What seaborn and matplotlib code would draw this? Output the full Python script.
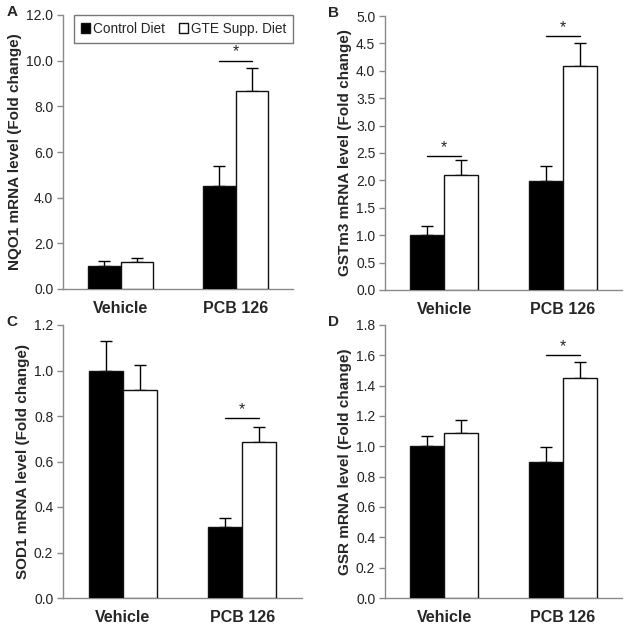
import matplotlib
matplotlib.use('Agg')
import matplotlib.pyplot as plt
import seaborn as sns
import numpy as np
import pandas as pd

# Groups and diets
groups = ['Vehicle', 'PCB 126']
diets = ['Control Diet', 'GTE Supp. Diet']

# Panel A - NQO1
nqo1_ctrl = [1.0, 4.53]
nqo1_ctrl_err = [0.21, 0.86]
nqo1_gte = [1.2, 8.65]
nqo1_gte_err = [0.17, 1.01]

# Panel B - GSTm3
gstm3_ctrl = [1.01, 1.98]
gstm3_ctrl_err = [0.16, 0.29]
gstm3_gte = [2.10, 4.08]
gstm3_gte_err = [0.27, 0.43]

# Panel C - SOD1
sod1_ctrl = [1.0, 0.31]
sod1_ctrl_err = [0.13, 0.04]
sod1_gte = [0.915, 0.686]
sod1_gte_err = [0.11, 0.064]

# Panel D - GSR
gsr_ctrl = [1.0, 0.90]
gsr_ctrl_err = [0.07, 0.095]
gsr_gte = [1.09, 1.45]
gsr_gte_err = [0.085, 0.105]

# significance bars: (group index, height)
nqo1_sig = [(1, 10.0)]
gstm3_sig = [(0, 2.45), (1, 4.63)]
sod1_sig = [(1, 0.79)]
gsr_sig = [(1, 1.6)]

W, H = 629, 630
sns.set_style('white')
plt.rcParams['font.family'] = ['Liberation Sans', 'DejaVu Sans']

fig = plt.figure(figsize=(W / 100, H / 100), dpi=100)
fig.patch.set_facecolor('white')

SPINE = '#8a8a8a'


def make_panel(rect, letter, ylabel, ctrl, ctrl_err, gte, gte_err, ymax, step, sig):
    left, top, right, bottom = rect
    ax = fig.add_axes([left / W, 1 - bottom / H, (right - left) / W, (bottom - top) / H])
    df = pd.DataFrame({
        'group': groups * 2,
        'diet': [diets[0]] * 2 + [diets[1]] * 2,
        'value': ctrl + gte,
    })
    sns.barplot(data=df, x='group', y='value', hue='diet', order=groups,
                hue_order=diets, palette=['black', 'white'], edgecolor='#111111',
                linewidth=1.0, width=0.57, errorbar=None, legend=False, ax=ax,
                zorder=3)
    centers = []
    for cont, err in zip(ax.containers, [ctrl_err, gte_err]):
        xs = [b.get_x() + b.get_width() / 2 for b in cont]
        ys = [b.get_height() for b in cont]
        centers.append(xs)
        ax.errorbar(xs, ys, yerr=[np.zeros(len(err)), err], fmt='none',
                    ecolor='black', elinewidth=1.0, capsize=4, capthick=1.0,
                    zorder=2)
    for gi, h in sig:
        x0, x1 = centers[0][gi], centers[1][gi]
        ax.plot([x0, x1], [h, h], color='black', lw=1.0, zorder=4)
        ax.text((x0 + x1) / 2, h + ymax * 0.004, '*', ha='center', va='bottom',
                fontsize=11.5)
    ax.set_xlim(-0.5, 1.5)
    ax.set_ylim(0, ymax)
    ax.set_yticks(np.arange(0, ymax + step / 2, step))
    ax.set_yticklabels([f'{v:.1f}' for v in np.arange(0, ymax + step / 2, step)],
                       fontsize=10, color='#222222')
    ax.set_xticks([0, 1])
    ax.set_xticklabels(groups, fontsize=11.5, fontweight='bold')
    ax.set_xticks([-0.5, 0.5, 1.5], minor=True)
    ax.tick_params(axis='x', which='major', length=0, pad=9)
    ax.tick_params(axis='x', which='minor', length=4, direction='out', color=SPINE, width=1)
    ax.tick_params(axis='y', length=4, direction='out', color=SPINE, width=1, pad=3, left=True)
    ax.set_xlabel('')
    ax.set_ylabel(ylabel, fontsize=11, fontweight='bold', labelpad=3)
    for s in ['top', 'right']:
        ax.spines[s].set_visible(False)
    for s in ['left', 'bottom']:
        ax.spines[s].set_color(SPINE)
        ax.spines[s].set_linewidth(1.0)
    fig.text(left / W - 0.09, 1 - (top - 3) / H, letter, fontsize=11,
             fontweight='bold', ha='left', va='center')
    return ax


axA = make_panel((63, 15, 293, 289), 'A', 'NQO1 mRNA level (Fold change)',
                 nqo1_ctrl, nqo1_ctrl_err, nqo1_gte, nqo1_gte_err, 12.0, 2.0, nqo1_sig)
axB = make_panel((385, 16, 622, 290), 'B', 'GSTm3 mRNA level (Fold change)',
                 gstm3_ctrl, gstm3_ctrl_err, gstm3_gte, gstm3_gte_err, 5.0, 0.5, gstm3_sig)
axC = make_panel((63, 325, 302, 598), 'C', 'SOD1 mRNA level (Fold change)',
                 sod1_ctrl, sod1_ctrl_err, sod1_gte, sod1_gte_err, 1.2, 0.2, sod1_sig)
axD = make_panel((385, 325, 622, 598), 'D', 'GSR mRNA level (Fold change)',
                 gsr_ctrl, gsr_ctrl_err, gsr_gte, gsr_gte_err, 1.8, 0.2, gsr_sig)

handles = [cont[0] for cont in axA.containers]
leg = axA.legend(handles, diets, loc='upper right', bbox_to_anchor=(1.0, 1.0),
                 ncol=2, fontsize=9.8, frameon=True, fancybox=False,
                 handlelength=0.7, handleheight=0.7, handletextpad=0.2,
                 columnspacing=1.0, borderpad=0.5, borderaxespad=0.0)
leg.get_frame().set_edgecolor('#555555')
leg.get_frame().set_linewidth(1.0)

fig.savefig('out.png', dpi=100, facecolor='white')
